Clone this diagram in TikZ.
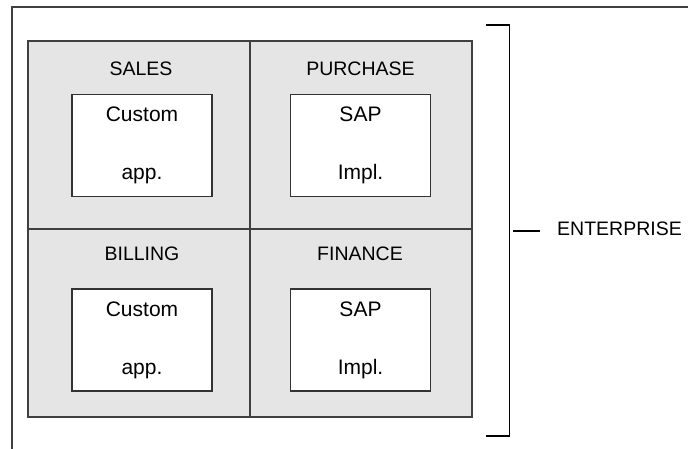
\documentclass[tikz,border=0pt]{standalone}
\usepackage{fontspec}
\setmainfont{Liberation Sans}
\begin{document}
\begin{tikzpicture}[x=1pt, y=-1pt, line width=1.4pt,
  every node/.style={font=\fontsize{19.5}{23}\selectfont},
  quad/.style={draw=black!75, fill=black!10, minimum width=222pt, minimum height=188pt, inner sep=0pt},
  appbox/.style={draw=black!80, fill=white, minimum width=140pt, minimum height=102pt, inner sep=0pt,
    align=center, font=\fontsize{21}{25}\selectfont}]
  \useasboundingbox (0,0) rectangle (688,449);
  % frame, cut off at the bottom and on the right
  \coordinate (fb) at (12,449); \coordinate (fr) at (688,7);
  \draw[black!75] (fb) |- (fr);
  % four departments
  \foreach \q/\cx/\cy in {sales/139/135,purchase/361/135,billing/139/323,finance/361/323}
    \node[quad] (\q) at (\cx,\cy) {};
  \node (saleslbl) at (141,69) {SALES};
  \node (purchaselbl) at (360.5,68.5) {PURCHASE};
  \node (billinglbl) at (142,254) {BILLING};
  \node (financelbl) at (360,254) {FINANCE};
  \node[appbox] (salesapp) at (142,145.5) {Custom\\[33pt]app.};
  \node[appbox] (purchaseapp) at (360.5,145.5) {SAP\\[33pt]Impl.};
  \node[appbox] (billingapp) at (142,340) {Custom\\[33pt]app.};
  \node[appbox] (financeapp) at (360.5,340) {SAP\\[33pt]Impl.};
  % bracket round the whole
  \coordinate (bt) at (486,25); \coordinate (bb) at (486,436);
  \draw[line width=1.2pt] (bt) -| (509.5,436) -- (bb);
  \node[anchor=west, inner sep=0pt] (ent) at (556.5,228.5) {ENTERPRISE};
  \coordinate (tick) at (513,231);
  \draw[line width=1.2pt] (tick) -- (540,231);
\end{tikzpicture}
\end{document}
